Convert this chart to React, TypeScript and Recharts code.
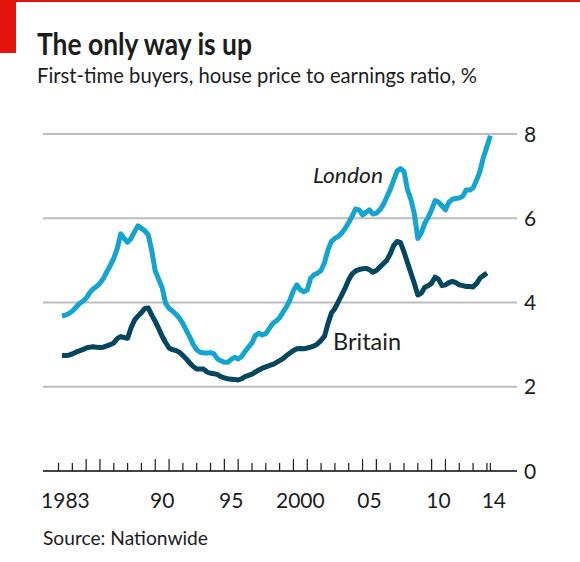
import React from "react";
import { LineChart, Line, XAxis, YAxis, CartesianGrid } from "recharts";

// quarterly observations, first one is 1983 Q2
const firstQuarter = 1983.25;

const london = [
  3.68, 3.7, 3.74, // 1983
  3.8, 3.88, 3.97, 4.03,
  4.1, 4.23, 4.32, 4.38, // 1985
  4.46, 4.57, 4.73, 4.88,
  5.05, 5.28, 5.63, 5.52,
  5.43, 5.52, 5.68, 5.82,
  5.76, 5.7, 5.6, 5.22,
  4.75, 4.55, 4.35, 3.98, // 1990
  3.86, 3.8, 3.72, 3.63,
  3.5, 3.34, 3.18, 3.0,
  2.88, 2.82, 2.8, 2.8,
  2.81, 2.78, 2.66, 2.62,
  2.58, 2.58, 2.65, 2.7, // 1995
  2.66, 2.72, 2.84, 2.94,
  3.04, 3.22, 3.27, 3.23,
  3.26, 3.38, 3.5, 3.56,
  3.64, 3.77, 3.9, 4.06,
  4.28, 4.42, 4.3, 4.25, // 2000
  4.3, 4.58, 4.66, 4.7,
  4.76, 4.95, 5.25, 5.45,
  5.52, 5.57, 5.65, 5.76,
  5.9, 6.05, 6.22, 6.2,
  6.08, 6.14, 6.2, 6.1, // 2005
  6.12, 6.2, 6.32, 6.5,
  6.68, 6.9, 7.12, 7.18,
  7.11, 6.68, 6.45, 6.1,
  5.52, 5.65, 5.88, 6.02,
  6.2, 6.42, 6.38, 6.29, // 2010
  6.2, 6.38, 6.45, 6.47,
  6.48, 6.52, 6.67, 6.67,
  6.72, 6.9, 7.12, 7.45,
  7.7, 7.96, // 2014
];

const britain = [
  2.74, 2.74, 2.75, // 1983
  2.78, 2.82, 2.85, 2.88,
  2.92, 2.94, 2.95, 2.94, // 1985
  2.93, 2.94, 2.97, 3.0,
  3.04, 3.14, 3.19, 3.17,
  3.15, 3.4, 3.58, 3.68,
  3.76, 3.86, 3.87, 3.7,
  3.55, 3.38, 3.2, 3.05, // 1990
  2.92, 2.88, 2.86, 2.82,
  2.74, 2.66, 2.56, 2.48,
  2.42, 2.42, 2.42, 2.35,
  2.32, 2.31, 2.29, 2.24,
  2.21, 2.19, 2.18, 2.17, // 1995
  2.16, 2.19, 2.24, 2.27,
  2.3, 2.35, 2.4, 2.44,
  2.47, 2.5, 2.53, 2.57,
  2.62, 2.67, 2.74, 2.8,
  2.86, 2.9, 2.91, 2.9, // 2000
  2.92, 2.94, 2.97, 3.02,
  3.1, 3.2, 3.5, 3.75,
  3.86, 4.02, 4.18, 4.35,
  4.54, 4.68, 4.75, 4.78,
  4.8, 4.81, 4.78, 4.72, // 2005
  4.76, 4.84, 4.92, 5.0,
  5.15, 5.35, 5.45, 5.42,
  5.2, 4.95, 4.7, 4.45,
  4.18, 4.22, 4.36, 4.4,
  4.46, 4.6, 4.55, 4.4, // 2010
  4.42, 4.47, 4.5, 4.47,
  4.42, 4.4, 4.38, 4.38,
  4.37, 4.45, 4.58, 4.64,
  4.7, null, // 2014
];

const yearTicks = [
  1983, 1984, 1985, 1986, 1987, 1988, 1989, 1990, 1991, 1992, 1993, 1994,
  1995, 1996, 1997, 1998, 1999, 2000, 2001, 2002, 2003, 2004, 2005, 2006,
  2007, 2008, 2009, 2010, 2011, 2012, 2013, 2014,
];
const endMarker = 2014.25;
const tallTicks = [1985, 1986, 1990, 1991, 1995, 1996, 2000, 2001, 2005, 2006, 2010, 2011];
const yearLabels: Record<number, string> = {
  1983: "1983",
  1990: "90",
  1995: "95",
  2000: "2000",
  2005: "05",
  2010: "10",
  2014: "14",
};
const valueTicks = [0, 2, 4, 6, 8];

const data = london.map((v, i) => ({
  t: firstQuarter + i * 0.25,
  london: v,
  britain: britain[i],
}));

const FONT = "Lato, 'Open Sans', sans-serif";
const INK = "#1c1c1c";

const YearTick = (props: any) => {
  const { x, y, payload } = props;
  const year = payload.value;
  const h = tallTicks.includes(year) ? 12 : 8;
  const label = yearLabels[year];
  return (
    <g>
      <line x1={x} x2={x} y1={y} y2={y - h} stroke={INK} strokeWidth={1.2} />
      {label && (
        <text
          x={x + 6.9}
          y={y + 37}
          textAnchor="middle"
          fontSize={21}
          fontFamily={FONT}
          fill={INK}
        >
          {label}
        </text>
      )}
    </g>
  );
};

const ValueTick = (props: any) => {
  const { x, y, payload } = props;
  return (
    <text
      x={x + 7}
      y={y}
      dy="0.36em"
      textAnchor="start"
      fontSize={21}
      fontFamily={FONT}
      fill={INK}
    >
      {payload.value}
    </text>
  );
};

export default function App() {
  return (
    <div
      style={{
        position: "absolute",
        left: 0,
        top: 0,
        width: 580,
        height: 562,
        background: "#fff",
        overflow: "hidden",
      }}
    >
      <div style={{ position: "absolute", left: 0, top: 0, width: 580, height: 2, background: "#e3120b" }} />
      <div style={{ position: "absolute", left: 0, top: 0, width: 16, height: 53, background: "#e3120b" }} />

      <div style={{ position: "absolute", left: 0, top: 0 }}>
        <LineChart
          width={580}
          height={562}
          data={data}
          margin={{ top: 134, right: 0, bottom: 0, left: 43 }}
        >
          <CartesianGrid vertical={false} stroke="#bdbdbd" strokeWidth={2} />
          <XAxis
            dataKey="t"
            type="number"
            domain={[1981.878, 2016.177]}
            ticks={[...yearTicks, endMarker]}
            interval={0}
            height={91}
            tickSize={0}
            tickMargin={0}
            tickLine={false}
            axisLine={{ stroke: INK, strokeWidth: 1.5 }}
            tick={<YearTick />}
          />
          <YAxis
            orientation="right"
            domain={[0, 8]}
            ticks={valueTicks}
            interval={0}
            width={63}
            tickSize={0}
            tickMargin={0}
            tickLine={false}
            axisLine={false}
            tick={<ValueTick />}
          />
          <Line
            dataKey="london"
            stroke="#14a4d1"
            strokeWidth={5}
            dot={false}
            strokeLinejoin="round"
            isAnimationActive={false}
          />
          <Line
            dataKey="britain"
            stroke="#02475f"
            strokeWidth={5}
            dot={false}
            strokeLinejoin="round"
            isAnimationActive={false}
          />
        </LineChart>
      </div>

      <svg
        width={580}
        height={562}
        style={{ position: "absolute", left: 0, top: 0, pointerEvents: "none" }}
      >
        <text x={37} y={55} fontSize={30} fontWeight={700} fontFamily={FONT} fill={INK} textLength={215} lengthAdjust="spacingAndGlyphs">
          The only way is up
        </text>
        <text x={37} y={83} fontSize={22} fontFamily={FONT} fill={INK} textLength={440} lengthAdjust="spacingAndGlyphs">
          First-time buyers, house price to earnings ratio, %
        </text>
        <text x={313} y={183} fontSize={22} fontStyle="italic" fontFamily={FONT} fill={INK} textLength={70} lengthAdjust="spacingAndGlyphs">
          London
        </text>
        <text x={333} y={350} fontSize={23} fontFamily={FONT} fill={INK} textLength={68} lengthAdjust="spacingAndGlyphs">
          Britain
        </text>
        <text x={43} y={545} fontSize={20} fontFamily={FONT} fill={INK} textLength={165} lengthAdjust="spacingAndGlyphs">
          Source: Nationwide
        </text>
      </svg>
    </div>
  );
}
